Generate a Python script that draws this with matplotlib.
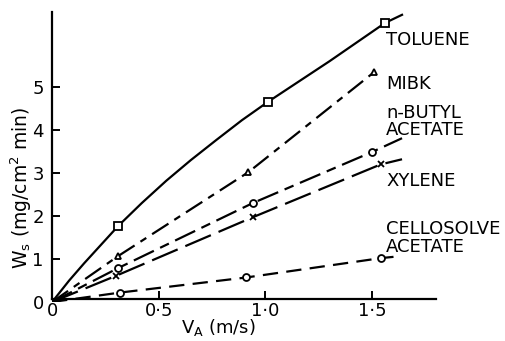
import matplotlib
matplotlib.use("Agg")
import matplotlib.pyplot as plt

plt.rcParams['font.family'] = ['DejaVu Sans']
plt.rcParams['lines.scale_dashes'] = False

# measured points (V_A in m/s, W_s in mg/cm2 min)
tol_v = [0.31, 1.01, 1.56]
tol_w = [1.77, 4.65, 6.49]
mibk_v = [0.31, 0.92, 1.51]
mibk_w = [1.07, 3.02, 5.35]
nba_v = [0.31, 0.94, 1.50]
nba_w = [0.79, 2.30, 3.49]
xyl_v = [0.30, 0.94, 1.54]
xyl_w = [0.61, 1.97, 3.20]
cel_v = [0.32, 0.91, 1.54]
cel_w = [0.22, 0.57, 1.02]

# drawn curves
tol_cv = [0, 0.08, 0.15, 0.31, 0.42, 0.535, 0.65, 0.77, 0.89, 1.01, 1.3, 1.56, 1.64]
tol_cw = [0, 0.5, 0.9, 1.77, 2.3, 2.82, 3.3, 3.77, 4.23, 4.65, 5.6, 6.49, 6.68]
mibk_cv = [0, 0.31, 0.92, 1.51, 1.53]
mibk_cw = [0, 1.07, 3.02, 5.35, 5.45]
nba_cv = [0, 0.31, 0.94, 1.50, 1.64]
nba_cw = [0, 0.79, 2.30, 3.49, 3.81]
xyl_cv = [0, 0.30, 0.94, 1.54, 1.64]
xyl_cw = [0, 0.61, 1.97, 3.20, 3.32]
cel_cv = [0, 0.32, 0.91, 1.54, 1.60]
cel_cw = [0, 0.22, 0.57, 1.02, 1.05]

labels = ["TOLUENE", "MIBK", "n-BUTYL\nACETATE", "XYLENE", "CELLOSOLVE\nACETATE"]
label_w = [6.09, 5.07, 4.2, 2.81, 1.49]

fig = plt.figure(figsize=(5.06, 3.41), dpi=100)
# y=0 sits a few pixels below the drawn x axis, as in the original
ax = fig.add_axes([0.103, 0.1144, 0.759, 0.851])

lw = 1.6
ax.plot(tol_cv, tol_cw, color='black', lw=lw)
ax.plot(mibk_cv, mibk_cw, color='black', lw=lw, dashes=(14, 5, 5, 5))
ax.plot(nba_cv, nba_cw, color='black', lw=lw, dashes=(16, 5, 7, 5))
ax.plot(xyl_cv, xyl_cw, color='black', lw=lw, dashes=(20, 6))
ax.plot(cel_cv, cel_cw, color='black', lw=lw, dashes=(11, 6))

mk = dict(color='black', linestyle='none', markerfacecolor='white', markeredgewidth=1.3)
ax.plot(tol_v, tol_w, marker='s', markersize=6, **mk)
ax.plot(mibk_v, mibk_w, marker='^', markersize=5, **mk)
ax.plot(nba_v, nba_w, marker='o', markersize=5, **mk)
ax.plot(xyl_v, xyl_w, marker='x', markersize=5, **mk)
ax.plot(cel_v, cel_w, marker='o', markersize=5, **mk)

for t, w in zip(labels, label_w):
    ax.text(1.565, w, t, fontsize=13, va='center', ha='left', linespacing=0.95)

ax.set_xlim(0, 1.8)
ax.set_ylim(0, 6.75)
ax.set_xticks([0, 0.5, 1.0, 1.5])
ax.set_xticklabels(["0", "0·5", "1·0", "1·5"])
ax.set_yticks([0, 1, 2, 3, 4, 5])
ax.tick_params(direction='in', length=6, width=1.4, labelsize=13, pad=6)
ax.tick_params(axis='x', pad=2)
ax.yaxis.get_major_ticks()[0].tick1line.set_visible(False)
for s in ['top', 'right']:
    ax.spines[s].set_visible(False)
for s in ['left', 'bottom']:
    ax.spines[s].set_linewidth(1.6)
ax.spines['bottom'].set_position(('data', 0.07))
ax.spines['left'].set_bounds(0.07, 6.75)

fig.text(218 / 506, 8 / 341, r"V$_\mathregular{A}$ (m/s)", fontsize=13,
         ha='center', va='baseline')
fig.text(21 / 506, 0.45, r"W$_\mathregular{s}$ (mg/cm$^\mathregular{2}$ min)",
         fontsize=13.5, ha='center', va='center', rotation=90)

fig.savefig("out.png", dpi=100)
